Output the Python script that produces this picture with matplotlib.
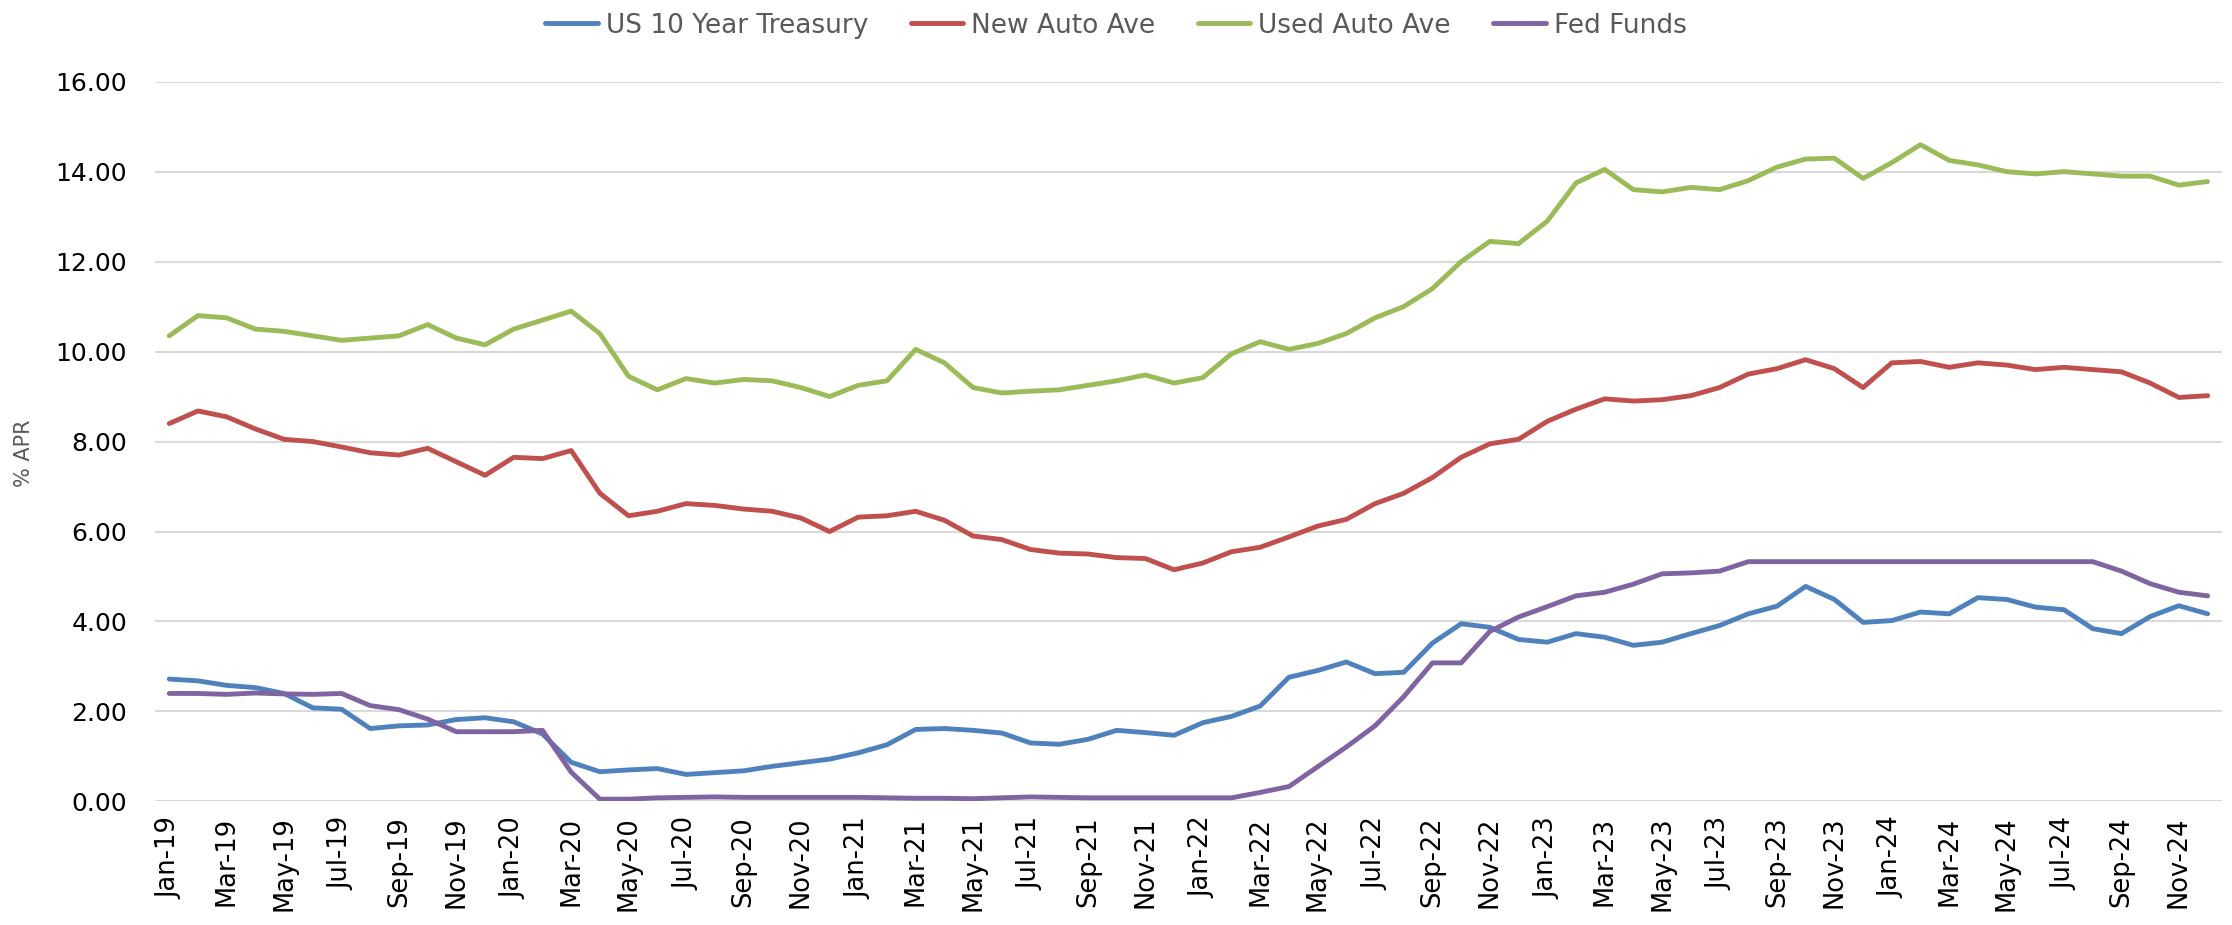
import numpy as np
import pandas as pd
from matplotlib import pyplot as plt
from matplotlib.ticker import FormatStrFormatter

###
# Treasury, auto loan and fed funds rates, monthly Jan-19 .. Dec-24
###

months = pd.date_range("2019-01-01", "2024-12-01", freq="MS").strftime("%b-%y").tolist()

treasury_10y = [2.72, 2.68, 2.58, 2.53, 2.40, 2.08, 2.05, 1.62, 1.68, 1.70, 1.82, 1.86,
                1.77, 1.50, 0.87, 0.66, 0.70, 0.73, 0.60, 0.64, 0.68, 0.78, 0.86, 0.94,
                1.08, 1.26, 1.60, 1.62, 1.58, 1.52, 1.30, 1.27, 1.38, 1.58, 1.53, 1.47,
                1.75, 1.89, 2.12, 2.76, 2.91, 3.10, 2.84, 2.87, 3.52, 3.95, 3.87, 3.60,
                3.54, 3.73, 3.65, 3.47, 3.54, 3.73, 3.91, 4.17, 4.34, 4.78, 4.49, 3.98,
                4.02, 4.21, 4.17, 4.53, 4.49, 4.32, 4.26, 3.84, 3.73, 4.11, 4.35, 4.17]

new_auto = [8.40, 8.68, 8.55, 8.28, 8.05, 8.00, 7.88, 7.75, 7.70, 7.85, 7.55, 7.25,
            7.65, 7.62, 7.80, 6.85, 6.35, 6.45, 6.62, 6.58, 6.50, 6.45, 6.30, 6.00,
            6.32, 6.35, 6.45, 6.25, 5.90, 5.82, 5.60, 5.52, 5.50, 5.42, 5.40, 5.15,
            5.30, 5.55, 5.65, 5.88, 6.12, 6.27, 6.62, 6.85, 7.20, 7.65, 7.95, 8.05,
            8.45, 8.72, 8.95, 8.90, 8.93, 9.02, 9.20, 9.50, 9.62, 9.82, 9.62, 9.20,
            9.75, 9.78, 9.65, 9.75, 9.70, 9.60, 9.65, 9.60, 9.55, 9.30, 8.98, 9.02]

used_auto = [10.35, 10.80, 10.75, 10.50, 10.45, 10.35, 10.25, 10.30, 10.35, 10.60, 10.30, 10.15,
             10.50, 10.70, 10.90, 10.40, 9.45, 9.15, 9.40, 9.30, 9.38, 9.35, 9.20, 9.00,
             9.25, 9.35, 10.05, 9.75, 9.20, 9.08, 9.12, 9.15, 9.25, 9.35, 9.48, 9.30,
             9.42, 9.95, 10.22, 10.05, 10.18, 10.40, 10.75, 11.00, 11.40, 12.00, 12.45, 12.40,
             12.90, 13.75, 14.05, 13.60, 13.55, 13.65, 13.60, 13.80, 14.10, 14.28, 14.30, 13.85,
             14.20, 14.60, 14.25, 14.15, 14.00, 13.95, 14.00, 13.95, 13.90, 13.90, 13.70, 13.78]

fed_funds = [2.40, 2.40, 2.38, 2.41, 2.39, 2.38, 2.40, 2.13, 2.04, 1.83, 1.55, 1.55,
             1.55, 1.58, 0.65, 0.05, 0.05, 0.08, 0.09, 0.10, 0.09, 0.09, 0.09, 0.09,
             0.09, 0.08, 0.07, 0.07, 0.06, 0.08, 0.10, 0.09, 0.08, 0.08, 0.08, 0.08,
             0.08, 0.08, 0.20, 0.33, 0.77, 1.21, 1.68, 2.33, 3.08, 3.08, 3.78, 4.10,
             4.33, 4.57, 4.65, 4.83, 5.06, 5.08, 5.12, 5.33, 5.33, 5.33, 5.33, 5.33,
             5.33, 5.33, 5.33, 5.33, 5.33, 5.33, 5.33, 5.33, 5.12, 4.84, 4.65, 4.57]

series = {
    "US 10 Year Treasury": (treasury_10y, "#4F81BD"),
    "New Auto Ave": (new_auto, "#C0504D"),
    "Used Auto Ave": (used_auto, "#9BBB59"),
    "Fed Funds": (fed_funds, "#8064A2"),
}

fig = plt.figure(figsize=(22.32, 9.25), dpi=100)
ax = fig.add_axes([0.0694, 0.1336, 0.9261, 0.7781])

x = np.arange(len(months))
for name, (vals, color) in series.items():
    ax.plot(x, vals, color=color, linewidth=3.5, label=name, solid_capstyle="round")

ax.set_xlim(-0.5, len(months) - 0.5)
ax.set_ylim(0, 16)
ax.set_yticks(np.arange(0, 17, 2))
ax.yaxis.set_major_formatter(FormatStrFormatter("%.2f"))
ax.set_xticks(x[::2])
ax.set_xticklabels(months[::2], rotation=90, fontsize=18.5)
ax.tick_params(axis="y", labelsize=18, length=0, pad=20)
ax.tick_params(axis="x", length=0, pad=11)
ax.grid(axis="y", color="#D9D9D9", linewidth=1.5)
ax.set_axisbelow(True)
for s in ax.spines.values():
    s.set_visible(False)

ax.set_ylabel("% APR", fontsize=15, color="#595959")
ax.yaxis.set_label_coords(-0.0585, 0.484)

fig.legend(loc="upper center", bbox_to_anchor=(0.5, 1.012), ncol=4, frameon=False,
           prop={"size": 19}, labelcolor="#595959",
           handlelength=2.0, columnspacing=1.6, handletextpad=0.3)

plt.savefig("out.png", dpi=100)
